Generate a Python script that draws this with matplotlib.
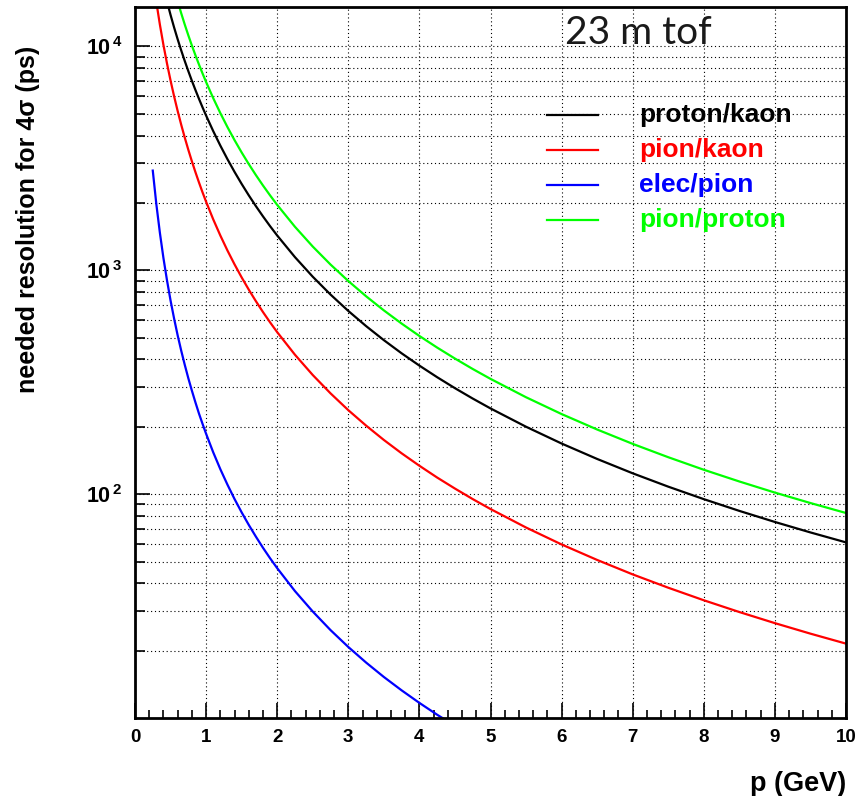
import matplotlib
matplotlib.use("Agg")
import matplotlib.pyplot as plt
from matplotlib.ticker import FixedLocator, LogLocator, NullFormatter, MultipleLocator

# momentum (GeV) and needed time resolution (ps) for a 4 sigma separation, 23 m flight path
p = [0.25, 0.3, 0.35, 0.4, 0.45, 0.5, 0.55, 0.6, 0.65, 0.7, 0.75, 0.8, 0.85, 0.9, 0.95,
     1.0, 1.1, 1.2, 1.3, 1.4, 1.5, 1.6, 1.7, 1.8, 1.9, 2.0, 2.25, 2.5, 2.75, 3.0, 3.25,
     3.5, 3.75, 4.0, 4.25, 4.5, 4.75, 5.0, 5.5, 6.0, 6.5, 7.0, 7.5, 8.0, 8.5, 9.0, 9.5, 10.0]

proton_kaon = [32040, 26044, 21714, 18440, 15881, 13829, 12153, 10763, 9596, 8604, 7756,
               7023, 6387, 5831, 5342, 4911, 4186, 3607, 3137, 2751, 2431, 2162, 1935,
               1741, 1574, 1430, 1144.5, 935.9, 779.0, 658.2, 563.3, 487.4, 425.7, 375.1,
               332.9, 297.4, 267.3, 241.5, 200.0, 168.3, 143.6, 123.9, 108.0, 94.98,
               84.17, 75.11, 67.44, 60.88]
pion_kaon = [20488, 15779, 12514, 10153, 8390, 7041, 5985, 5146, 4468, 3913, 3453,
             3068, 2744, 2467, 2229, 2024, 1689, 1430.5, 1226, 1062.6, 929.3, 819.5, 727.9,
             650.7, 585.2, 529.1, 419.4, 340.5, 282.0, 237.2, 202.4, 174.6, 152.2, 133.9,
             118.6, 105.9, 95.04, 85.8, 70.94, 59.6, 50.82, 43.8, 38.19, 33.57,
             29.74, 26.53, 23.81, 21.49]
elec_pion = [2788, 1975, 1470, 1134, 902, 733, 608.3, 512, 437.4, 378, 329.4,
             290, 256.9, 229, 206.0, 186, 153.8, 129.3, 110.3, 95.1, 82.9, 72.9, 64.6,
             57.6, 51.7, 46.7, 36.88, 29.9, 24.70, 20.76, 17.69, 15.25, 13.29, 11.68,
             10.34, 9.23, 8.28, 7.48, 6.18, 5.19, 4.42, 3.81, 3.32, 2.92,
             2.59, 2.31, 2.07, 1.87]
pion_proton = [52528, 41823, 34228, 28594, 24271, 20870, 18139, 15909, 14064, 12517, 11209,
               10092, 9131, 8298, 7572, 6935, 5876, 5038, 4364, 3814, 3360, 2982, 2663,
               2392, 2160, 1959, 1563.9, 1276.5, 1060.9, 895.4, 765.6, 662.0, 578.0, 508.9,
               451.5, 403.3, 362.3, 327.3, 270.9, 227.9, 194.4, 167.7, 146.2, 128.5,
               113.9, 101.6, 91.25, 82.37]

labels = ['proton/kaon', 'pion/kaon', 'elec/pion', 'pion/proton']
colors = ['#000000', '#ff0000', '#0000ff', '#00ff00']
series = [proton_kaon, pion_kaon, elec_pion, pion_proton]

plt.rcParams['font.family'] = ['Liberation Sans', 'DejaVu Sans']
plt.rcParams['mathtext.fontset'] = 'custom'
plt.rcParams['mathtext.rm'] = 'Liberation Sans:bold'
plt.rcParams['mathtext.bf'] = 'Liberation Sans:bold'

fig = plt.figure(figsize=(8.6, 7.96), dpi=100)
ax = fig.add_axes([135 / 860, 1 - 718 / 796, 711 / 860, 711 / 796])

for y, lab, c in zip(series, labels, colors):
    ax.plot(p, y, color=c, lw=1.6, label=lab)

ax.set_yscale('log')
ax.set_xlim(0, 10)
ax.set_ylim(10, 15000)

# ticks, ROOT style (inside, bottom/left only)
ax.xaxis.set_major_locator(MultipleLocator(1))
ax.xaxis.set_minor_locator(MultipleLocator(0.2))
ax.yaxis.set_major_locator(FixedLocator([10, 100, 1000, 10000]))
ax.yaxis.set_minor_locator(LogLocator(base=10, subs=range(2, 10)))
ax.yaxis.set_minor_formatter(NullFormatter())
ax.set_yticks([100, 1000, 10000])
ax.set_yticklabels([r'$10^{\,2}$', r'$10^{\,3}$', r'$10^{\,4}$'])
ax.tick_params(which='both', direction='in', top=False, right=False)
ax.tick_params(axis='x', which='major', length=11, width=1.2, pad=8, labelsize=13.5)
ax.tick_params(axis='x', which='minor', length=6, width=1.2)
ax.tick_params(axis='y', which='major', length=11, width=1.2, pad=9, labelsize=15.5)
ax.tick_params(axis='y', which='minor', length=7, width=1.2)
for t in ax.get_xticklabels():
    t.set_fontweight('bold')

ax.grid(True, which='major', axis='x', color='black', lw=0.8, ls=(0, (1, 2.5)))
ax.grid(True, which='both', axis='y', color='black', lw=0.8, ls=(0, (1, 2.5)))

for s in ax.spines.values():
    s.set_linewidth(2)

ax.set_xlabel('p (GeV)', fontsize=19.5, fontweight='bold', loc='right')
ax.xaxis.set_label_coords(1.0, -0.074)
ax.set_ylabel('needed resolution for 4\u03c3 (ps)', fontsize=18, fontweight='bold', loc='top')
ax.yaxis.set_label_coords(-0.134, 0.946)

# legend, drawn by hand to match the ROOT layout
leg_y = [0.848, 0.799, 0.750, 0.700]
for yy, lab, c in zip(leg_y, labels, colors):
    ax.plot([0.5795, 0.6512], [yy, yy], color=c, lw=1.6, transform=ax.transAxes)
    ax.text(0.709, yy, lab, color=c, fontsize=19, fontweight='bold',
            va='center', ha='left', transform=ax.transAxes)

fig.text(565 / 860, 1 - 44 / 796, '23 m tof', fontsize=28, family=['Lato', 'DejaVu Sans'],
         fontweight='normal', color='#1a1a1a', va='baseline', ha='left')

fig.savefig('out.png', dpi=100)
